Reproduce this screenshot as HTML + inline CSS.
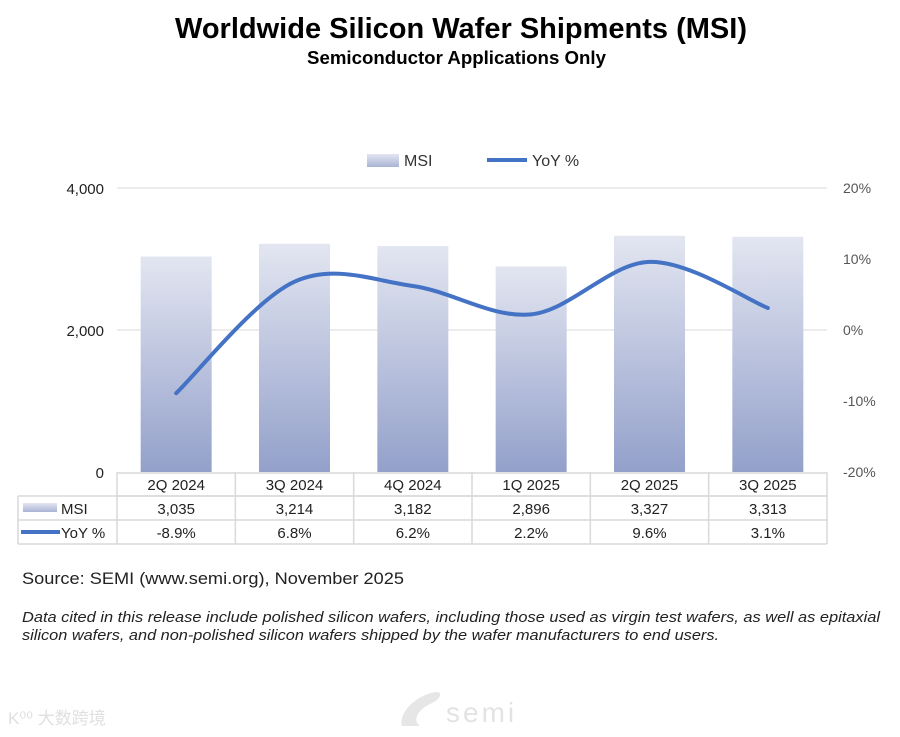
<!DOCTYPE html>
<html><head><meta charset="utf-8"><style>
body{margin:0;background:#fff;width:900px;height:737px;overflow:hidden;font-family:"Liberation Sans","Noto Sans CJK SC",sans-serif;}
</style></head><body>
<svg id="chart" width="900" height="737" xmlns="http://www.w3.org/2000/svg" style="position:absolute;left:0;top:0" font-family="Liberation Sans, Noto Sans CJK SC, sans-serif">
<defs>
<linearGradient id="barg" x1="0" y1="0" x2="0" y2="1"><stop offset="0" stop-color="#e3e6f1"/><stop offset="1" stop-color="#93a0ca"/></linearGradient>
<linearGradient id="legg" x1="0" y1="0" x2="0" y2="1"><stop offset="0" stop-color="#e3e6f1"/><stop offset="1" stop-color="#a9b3d5"/></linearGradient>
</defs>
<text x="175" y="38" textLength="572" lengthAdjust="spacingAndGlyphs" font-size="29" font-weight="bold" fill="#000">Worldwide Silicon Wafer Shipments (MSI)</text>
<text x="307" y="64" textLength="299" lengthAdjust="spacingAndGlyphs" font-size="18" font-weight="bold" fill="#000">Semiconductor Applications Only</text>
<g>
<rect x="367" y="154" width="32" height="13" fill="url(#legg)"/>
<text x="404" y="166" font-size="16" fill="#333">MSI</text>
<line x1="487" y1="160" x2="527" y2="160" stroke="#4472c4" stroke-width="4"/>
<text x="532" y="166" font-size="16" fill="#333">YoY %</text>
</g>
<g id="grid"></g><g id="bars"></g><g id="line"></g><g id="axes"></g><g id="table"></g>
<text x="22" y="584" textLength="382" lengthAdjust="spacingAndGlyphs" font-size="17" fill="#222">Source: SEMI (www.semi.org), November 2025</text>
<text x="22" y="622" textLength="858" lengthAdjust="spacingAndGlyphs" font-size="15" font-style="italic" fill="#222">Data cited in this release include polished silicon wafers, including those used as virgin test wafers, as well as epitaxial</text>
<text x="22" y="640" textLength="697" lengthAdjust="spacingAndGlyphs" font-size="15" font-style="italic" fill="#222">silicon wafers, and non-polished silicon wafers shipped by the wafer manufacturers to end users.</text>
<g fill="#e6e6e6">
<path d="M402 726 C398 712 418 694 436 692 C444 692 440 700 430 704 C418 710 412 720 420 726 Z"/>
<text x="446" y="722" font-size="28" fill="#e3e3e3" letter-spacing="3">semi</text>
</g>
<text x="8" y="724" font-size="17" fill="#e0e0e0">K⁰⁰ 大数跨境</text>
</svg>
<script>
const categories=["2Q 2024","3Q 2024","4Q 2024","1Q 2025","2Q 2025","3Q 2025"];
const msiValues=[3035,3214,3182,2896,3327,3313];
const yoyValues=[-8.9,6.8,6.2,2.2,9.6,3.1];
const msiLabels=["3,035","3,214","3,182","2,896","3,327","3,313"];
const yoyLabels=["-8.9%","6.8%","6.2%","2.2%","9.6%","3.1%"];
const leftTicks=[0,2000,4000];
const rightTicks=[-20,-10,0,10,20];
const NS="http://www.w3.org/2000/svg";
const X0=117,X1=827,Y0=472,Y1=188;
const band=(X1-X0)/categories.length;
const xC=i=>X0+band*(i+0.5);
const yL=v=>Y0-(v/4000)*(Y0-Y1);
const yR=v=>Y0-((v+20)/40)*(Y0-Y1);
function mk(tag,attrs,parent,text){const e=document.createElementNS(NS,tag);for(const k in attrs)e.setAttribute(k,attrs[k]);if(text!=null)e.textContent=text;document.getElementById(parent).appendChild(e);return e;}
leftTicks.forEach(t=>{
  if(t>0){const g=mk('line',{x1:X0,x2:X1,y1:yL(t),y2:yL(t),stroke:'#d9d9d9','stroke-width':1},'grid');
  
  }
  const l=mk('text',{x:104,y:yL(t)+6,'text-anchor':'end','font-size':15,fill:'#222'},'axes',t.toLocaleString('en-US'));
  
  
});
rightTicks.forEach(t=>{
  const l=mk('text',{x:843,y:yR(t)+5,'font-size':14,fill:'#555'},'axes',t+'%');
  
  
});
msiValues.forEach((v,i)=>{
  const b=mk('rect',{x:xC(i)-35.5,y:yL(v),width:71,height:Y0-yL(v),fill:'url(#barg)'},'bars');
  
  
});
const pts=yoyValues.map((v,i)=>[xC(i),yR(v)]);
let d='M'+pts[0][0]+' '+pts[0][1];
for(let i=0;i<pts.length-1;i++){
  const p0=pts[i-1]||pts[i],p1=pts[i],p2=pts[i+1],p3=pts[i+2]||p2;
  const c1=[p1[0]+(p2[0]-p0[0])/6,p1[1]+(p2[1]-p0[1])/6];
  const c2=[p2[0]-(p3[0]-p1[0])/6,p2[1]-(p3[1]-p1[1])/6];
  d+=` C${c1[0]} ${c1[1]} ${c2[0]} ${c2[1]} ${p2[0]} ${p2[1]}`;
}
const ln=mk('path',{d:d,fill:'none',stroke:'#4472c4','stroke-width':4,'stroke-linecap':'round'},'line');


const T='#d9d9d9';
const ax=mk('line',{x1:X0,x2:X1,y1:Y0+1,y2:Y0+1,stroke:T,'stroke-width':1.5},'table');


[[X0,496,X1,496],[18,496,X1,496],[18,520,X1,520],[18,544,X1,544],[18,496,18,544]].forEach(a=>{
  const e=mk('line',{x1:a[0],y1:a[1],x2:a[2],y2:a[3],stroke:T,'stroke-width':1.5},'table');
  
  
});
for(let i=0;i<=categories.length;i++){
  const x=X0+band*i;
  const e=mk('line',{x1:x,y1:Y0,x2:x,y2:544,stroke:T,'stroke-width':1.5},'table');
  
  
}
categories.forEach((c,i)=>{
  const a=mk('text',{x:xC(i),y:490,'text-anchor':'middle','font-size':15,fill:'#222'},'table',c);
  
  
  const b=mk('text',{x:xC(i),y:514,'text-anchor':'middle','font-size':15,fill:'#222'},'table',msiLabels[i]);
  
  
  const c2=mk('text',{x:xC(i),y:538,'text-anchor':'middle','font-size':15,fill:'#222'},'table',yoyLabels[i]);
  
  
});
const s1=mk('rect',{x:23,y:503,width:34,height:9,fill:'url(#legg)'},'table');


const t1=mk('text',{x:61,y:514,'font-size':15,fill:'#222'},'table','MSI');


const s2=mk('line',{x1:21,x2:60,y1:532,y2:532,stroke:'#4472c4','stroke-width':4},'table');


const t2=mk('text',{x:61,y:538,'font-size':15,fill:'#222'},'table','YoY %');


</script>
</body></html>
